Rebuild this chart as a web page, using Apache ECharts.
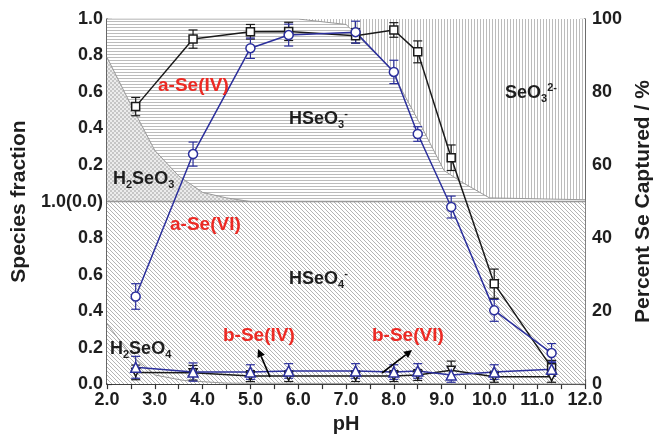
<!DOCTYPE html>
<html><head><meta charset="utf-8">
<script src="https://cdn.jsdelivr.net/npm/echarts@6/dist/echarts.min.js"></script>
<style>html,body{margin:0;padding:0;background:#fff}#c{width:662px;height:439px}</style>
</head><body><div id="c"></div>
<script>
// ---- data (percent captured, right axis) ----
const pH = [2.6, 3.8, 5.0, 5.8, 7.2, 8.0, 8.5, 9.2, 10.1, 11.3];
const aSeIV = [76, 94.5, 96.5, 96.6, 95.4, 97, 91, 62, 27.5, 4.5];
const aSeIVErr = [2.5, 2.5, 2, 2.5, 2, 2, 3, 3.5, 4, 2];
const aSeVI = [24, 63, 92, 95.6, 96.4, 85.5, 68.5, 48.5, 20.2, 8.5];
const aSeVIErr = [3.5, 3.3, 2.8, 3, 3, 3.2, 2, 3, 3, 2.6];
const bSeIV = [3.2, 3.1, 2.2, 2.2, 2.2, 2.2, 2.5, 3.8, 2.0, 2.0];
const bSeIVErr = [2, 2, 1.5, 1.5, 1.5, 1.5, 1.5, 2.5, 1.5, 1.5];
const bSeVI = [4.6, 3.3, 3.3, 3.6, 3.6, 3.3, 3.6, 2.5, 3.3, 4.1];
const bSeVIErr = [3, 2.5, 2, 2, 2, 2, 2, 2, 2, 2];

// ---- speciation (fraction) ----
const h2seo3PH = [2.0, 2.5, 3.0, 3.5, 4.0, 4.5, 5.0, 12.0];
const h2seo3Frac = [0.79, 0.53, 0.28, 0.14, 0.05, 0.02, 0.0, 0.0];
const hseo3PH = [2.0, 6.0, 7.0, 7.2, 7.5, 7.9, 8.6, 9.05, 9.4, 10.0, 12.0];
const hseo3Cum = [1.0, 1.0, 0.97, 0.92, 0.84, 0.74, 0.40, 0.17, 0.11, 0.02, 0.01];
const h2seo4PH = [2.0, 2.5, 3.0, 3.6, 4.5, 12.0];
const h2seo4Frac = [0.33, 0.16, 0.05, 0.02, 0.005, 0.0];

const xTicks = [2, 12, 0.5];
const F = 'Liberation Sans, Arial, Helvetica, sans-serif';
const BLACK = '#1a1a1a', BLUE = '#2b2f9c', RED = '#ec2a24';

function zip(a, b, off) { return a.map((v, i) => [v, b[i] + (off || 0)]); }
function zip3(a, b, c) { return a.map((v, i) => [v, b[i], c[i]]); }

function pattern(kind) {
  const c = document.createElement('canvas');
  let w = 4, h = 4;
  if (kind === 'h') { w = 4; h = 3; }
  if (kind === 'v') { w = 3; h = 4; }
  c.width = w; c.height = h;
  const g = c.getContext('2d');
  g.fillStyle = '#fff'; g.fillRect(0, 0, w, h);
  g.fillStyle = '#bcbcbc';
  if (kind === 'h') g.fillRect(0, 0, w, 1);
  else if (kind === 'v') g.fillRect(0, 0, 1, h);
  else if (kind === 'd') { g.fillStyle = '#b4b4b4'; for (let i = 0; i < 4; i++) g.fillRect(i, i, 1, 1); }
  else if (kind === 'x') { g.fillStyle = '#ececec'; g.fillRect(0, 0, 4, 4); g.fillStyle = '#c6c6c6'; g.fillRect(0, 0, 2, 2); g.fillRect(2, 2, 2, 2); }
  return { image: c, repeat: 'repeat' };
}

function bg(data, pat, lineColor, lineWidth) {
  return { type: 'line', yAxisIndex: 0, data, symbol: 'none', silent: true, z: 1,
    lineStyle: { color: lineColor || '#9a9a9a', width: lineWidth === undefined ? 1 : lineWidth },
    areaStyle: { color: pattern(pat), opacity: 1 } };
}

function errSeries(d, color) {
  return { type: 'custom', yAxisIndex: 1, z: 2, silent: true, data: d,
    renderItem: (params, api) => {
      const x = api.value(0), y = api.value(1), e = api.value(2);
      const hi = api.coord([x, y + e]), lo = api.coord([x, y - e]);
      const w = 4.5, st = { stroke: color, lineWidth: 1.2 };
      return { type: 'group', children: [
        { type: 'line', shape: { x1: hi[0], y1: hi[1], x2: lo[0], y2: lo[1] }, style: st },
        { type: 'line', shape: { x1: hi[0] - w, y1: hi[1], x2: hi[0] + w, y2: hi[1] }, style: st },
        { type: 'line', shape: { x1: lo[0] - w, y1: lo[1], x2: lo[0] + w, y2: lo[1] }, style: st }
      ] };
    } };
}

function dataSeries(name, d, color, symbol, size, rotate) {
  return { name, type: 'line', yAxisIndex: 1, data: d, z: 3, symbol, symbolSize: size, symbolRotate: rotate || 0,
    showAllSymbol: true,
    lineStyle: { color, width: 1.5 }, itemStyle: { color: '#fff', borderColor: color, borderWidth: 1.5 } };
}

const rich = {
  m: { fontSize: 18, fontWeight: 'bold', fontFamily: F, fill: '#1e1e1e', color: '#1e1e1e', lineHeight: 22 },
  b: { fontSize: 11, fontWeight: 'bold', fontFamily: F, fill: '#1e1e1e', color: '#1e1e1e', lineHeight: 11, verticalAlign: 'bottom' },
  t: { fontSize: 11, fontWeight: 'bold', fontFamily: F, fill: '#1e1e1e', color: '#1e1e1e', lineHeight: 11, verticalAlign: 'top' }
};
function chem(x, y, text) {
  return { type: 'text', x, y, z: 10, style: { text, rich, textVerticalAlign: 'middle', verticalAlign: 'middle', font: 'bold 18px ' + F, fill: '#1e1e1e' } };
}
function redText(x, y, text) {
  return { type: 'text', x, y, z: 10, style: { text, font: 'bold 19px ' + F, fill: RED, textVerticalAlign: 'middle', verticalAlign: 'middle' } };
}
function arrow(sx, sy, tx, ty) {
  const dx = tx - sx, dy = ty - sy, L = Math.hypot(dx, dy), ux = dx / L, uy = dy / L;
  const hl = 8, hw = 4;
  const bx = tx - ux * hl, by = ty - uy * hl;
  return [
    { type: 'line', z: 20, shape: { x1: sx, y1: sy, x2: bx, y2: by }, style: { stroke: '#000', lineWidth: 1.6 } },
    { type: 'polygon', z: 20, shape: { points: [[tx, ty], [bx - uy * hw, by + ux * hw], [bx + uy * hw, by - ux * hw]] }, style: { fill: '#000' } }
  ];
}

function leftFmt(v) {
  const r = Math.round(v * 10) / 10;
  if (Math.abs(r - 1) < 1e-6) return '1.0(0.0)';
  return (r < 1 ? r : r - 1).toFixed(1);
}

const axLine = { show: true, lineStyle: { color: '#333', width: 1.5 } };
const axTick = { show: true, inside: true, length: 5, lineStyle: { color: '#333', width: 1.2 } };
const lblStyle = { color: '#1e1e1e', fontWeight: 'bold', fontSize: 18, fontFamily: F };

const chart = echarts.init(document.getElementById('c'), null, { renderer: 'canvas' });
chart.setOption({
  animation: false,
  backgroundColor: '#fff',
  grid: { left: 107, right: 68, top: 19, bottom: 54, containLabel: false },
  xAxis: [
    { type: 'value', min: xTicks[0], max: xTicks[1], interval: xTicks[2], position: 'bottom',
      name: 'pH', nameLocation: 'middle', nameGap: 24,
      nameTextStyle: { color: '#1e1e1e', fontWeight: 'bold', fontSize: 20, fontFamily: F },
      axisLine: axLine, axisTick: axTick, splitLine: { show: false },
      axisLabel: Object.assign({ margin: 7, formatter: v => (Math.abs(v - Math.round(v)) < 1e-6 ? v.toFixed(1) : '') }, lblStyle) },
    { type: 'value', min: xTicks[0], max: xTicks[1], interval: xTicks[2], position: 'top',
      axisLine: axLine, axisTick: axTick, splitLine: { show: false }, axisLabel: { show: false } }
  ],
  yAxis: [
    { type: 'value', min: 0, max: 2, interval: 0.2, position: 'left',
      name: 'Species fraction', nameLocation: 'middle', nameGap: 74, nameRotate: 90,
      nameTextStyle: { color: '#1e1e1e', fontWeight: 'bold', fontSize: 21, fontFamily: F },
      axisLine: axLine, axisTick: axTick, splitLine: { show: false },
      axisLabel: Object.assign({ margin: 4, formatter: leftFmt }, lblStyle) },
    { type: 'value', min: 0, max: 100, interval: 10, position: 'right',
      name: 'Percent Se Captured / %', nameLocation: 'middle', nameGap: 35, nameRotate: 90,
      nameTextStyle: { color: '#1e1e1e', fontWeight: 'bold', fontSize: 21, fontFamily: F },
      axisLine: axLine, axisTick: axTick, splitLine: { show: false },
      axisLabel: Object.assign({ margin: 7, formatter: v => (v % 20 === 0 ? String(v) : '') }, lblStyle) }
  ],
  series: [
    bg([[2, 2], [12, 2]], 'v', '#9a9a9a', 0),
    bg(zip(hseo3PH, hseo3Cum, 1), 'h'),
    bg(zip(h2seo3PH, h2seo3Frac, 1), 'x'),
    bg([[2, 1], [12, 1]], 'd', '#999', 1.5),
    bg(zip(h2seo4PH, h2seo4Frac), 'd'),
    errSeries(zip3(pH, aSeIV, aSeIVErr), BLACK),
    errSeries(zip3(pH, bSeIV, bSeIVErr), BLACK),
    errSeries(zip3(pH, aSeVI, aSeVIErr), BLUE),
    errSeries(zip3(pH, bSeVI, bSeVIErr), BLUE),
    dataSeries('a-Se(IV)', zip(pH, aSeIV), BLACK, 'rect', 8),
    dataSeries('b-Se(IV)', zip(pH, bSeIV), BLACK, 'triangle', 8, 180),
    dataSeries('a-Se(VI)', zip(pH, aSeVI), BLUE, 'circle', 9),
    dataSeries('b-Se(VI)', zip(pH, bSeVI), BLUE, 'triangle', 10)
  ],
  graphic: [
    redText(158, 86, 'a-Se(IV)'),
    redText(170, 225, 'a-Se(VI)'),
    redText(223, 336, 'b-Se(IV)'),
    redText(372, 336, 'b-Se(VI)'),
    chem(289, 119, '{m|HSeO}{b|3}{t|-}'),
    chem(505, 93, '{m|SeO}{b|3}{t|2-}'),
    chem(113, 179, '{m|H}{b|2}{m|SeO}{b|3}'),
    chem(289, 279, '{m|HSeO}{b|4}{t|-}'),
    chem(110, 349, '{m|H}{b|2}{m|SeO}{b|4}')
  ].concat(arrow(270, 377, 258, 349), arrow(382, 373, 412, 350))
});
</script></body></html>
